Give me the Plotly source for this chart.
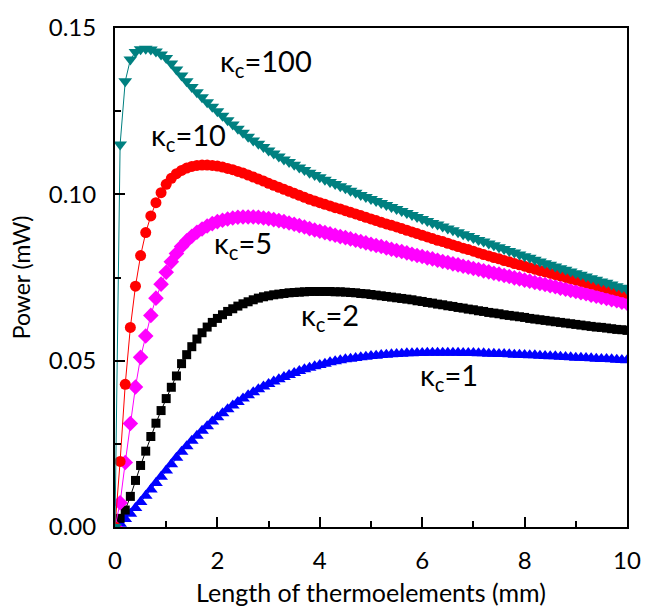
import plotly.graph_objects as go

# Length of thermoelements (mm): 0.0, 0.1, ..., 10.0
length_mm = [i / 10 for i in range(101)]

# Output power (mW) for each thermal contact conductance kappa_c
power_k100 = [
    0.0, 0.1150, 0.1340, 0.1405, 0.1428, 0.1436, 0.1438, 0.1435, 0.1429, 0.1420,
    0.1410, 0.1393, 0.1375, 0.1357, 0.1340, 0.1323, 0.1307, 0.1292, 0.1277, 0.1263,
    0.1250, 0.1236, 0.1223, 0.1210, 0.1197, 0.1185, 0.1173, 0.1162, 0.1152, 0.1142,
    0.1132, 0.1123, 0.1114, 0.1105, 0.1097, 0.1089, 0.1081, 0.1073, 0.1065, 0.1058,
    0.1051, 0.1044, 0.1037, 0.1031, 0.1024, 0.1018, 0.1011, 0.1005, 0.0998, 0.0992,
    0.0986, 0.0980, 0.0974, 0.0968, 0.0962, 0.0956, 0.0950, 0.0944, 0.0938, 0.0932,
    0.0926, 0.0920, 0.0914, 0.0909, 0.0903, 0.0897, 0.0892, 0.0886, 0.0880, 0.0875,
    0.0869, 0.0863, 0.0858, 0.0852, 0.0847, 0.0841, 0.0836, 0.0830, 0.0825, 0.0819,
    0.0814, 0.0809, 0.0803, 0.0798, 0.0793, 0.0788, 0.0783, 0.0778, 0.0773, 0.0768,
    0.0763, 0.0758, 0.0753, 0.0748, 0.0743, 0.0738, 0.0734, 0.0729, 0.0724, 0.0719,
    0.0715,
]
power_k10 = [
    0.0, 0.0197, 0.0429, 0.0600, 0.0724, 0.0816, 0.0885, 0.0935, 0.0975, 0.1005,
    0.1030, 0.1048, 0.1062, 0.1072, 0.1079, 0.1084, 0.1087, 0.1088, 0.1088, 0.1087,
    0.1085, 0.1082, 0.1078, 0.1074, 0.1069, 0.1064, 0.1058, 0.1052, 0.1046, 0.1040,
    0.1033, 0.1027, 0.1021, 0.1015, 0.1009, 0.1003, 0.0997, 0.0991, 0.0985, 0.0980,
    0.0975, 0.0970, 0.0965, 0.0960, 0.0956, 0.0951, 0.0946, 0.0941, 0.0936, 0.0931,
    0.0926, 0.0921, 0.0916, 0.0911, 0.0907, 0.0902, 0.0897, 0.0892, 0.0887, 0.0882,
    0.0877, 0.0872, 0.0867, 0.0862, 0.0858, 0.0853, 0.0848, 0.0843, 0.0838, 0.0834,
    0.0829, 0.0824, 0.0819, 0.0815, 0.0810, 0.0806, 0.0801, 0.0797, 0.0792, 0.0788,
    0.0784, 0.0779, 0.0775, 0.0771, 0.0767, 0.0763, 0.0759, 0.0755, 0.0751, 0.0747,
    0.0743, 0.0739, 0.0735, 0.0731, 0.0727, 0.0723, 0.0719, 0.0715, 0.0711, 0.0707,
    0.0703,
]
power_k5 = [
    0.0, 0.0073, 0.0194, 0.0311, 0.0421, 0.0510, 0.0574, 0.0636, 0.0688, 0.0730,
    0.0766, 0.0797, 0.0822, 0.0843, 0.0860, 0.0874, 0.0886, 0.0896, 0.0905, 0.0912,
    0.0918, 0.0922, 0.0926, 0.0929, 0.0931, 0.0932, 0.0932, 0.0932, 0.0931, 0.0929,
    0.0927, 0.0924, 0.0921, 0.0918, 0.0914, 0.0910, 0.0906, 0.0902, 0.0897, 0.0893,
    0.0889, 0.0885, 0.0881, 0.0877, 0.0873, 0.0870, 0.0866, 0.0862, 0.0858, 0.0854,
    0.0850, 0.0846, 0.0843, 0.0839, 0.0835, 0.0831, 0.0828, 0.0824, 0.0820, 0.0816,
    0.0813, 0.0809, 0.0806, 0.0802, 0.0798, 0.0795, 0.0791, 0.0788, 0.0784, 0.0781,
    0.0777, 0.0774, 0.0770, 0.0767, 0.0763, 0.0760, 0.0756, 0.0753, 0.0749, 0.0746,
    0.0742, 0.0739, 0.0735, 0.0732, 0.0729, 0.0725, 0.0722, 0.0718, 0.0715, 0.0711,
    0.0708, 0.0704, 0.0701, 0.0697, 0.0694, 0.0690, 0.0687, 0.0683, 0.0680, 0.0676,
    0.0673,
]
power_k2 = [
    0.0, 0.0026, 0.0051, 0.0092, 0.0140, 0.0185, 0.0228, 0.0272, 0.0312, 0.0350,
    0.0386, 0.0420, 0.0454, 0.0491, 0.0518, 0.0542, 0.0565, 0.0584, 0.0601, 0.0615,
    0.0627, 0.0638, 0.0648, 0.0656, 0.0664, 0.0671, 0.0677, 0.0683, 0.0688, 0.0692,
    0.0695, 0.0698, 0.0700, 0.0702, 0.0704, 0.0705, 0.0706, 0.0707, 0.0708, 0.0708,
    0.0708, 0.0708, 0.0708, 0.0707, 0.0707, 0.0706, 0.0705, 0.0704, 0.0702, 0.0701,
    0.0699, 0.0697, 0.0695, 0.0693, 0.0691, 0.0689, 0.0687, 0.0685, 0.0683, 0.0680,
    0.0678, 0.0675, 0.0673, 0.0670, 0.0668, 0.0665, 0.0663, 0.0660, 0.0658, 0.0655,
    0.0653, 0.0650, 0.0648, 0.0645, 0.0643, 0.0641, 0.0638, 0.0636, 0.0634, 0.0632,
    0.0630, 0.0627, 0.0625, 0.0623, 0.0621, 0.0619, 0.0617, 0.0615, 0.0613, 0.0611,
    0.0609, 0.0607, 0.0605, 0.0603, 0.0601, 0.0600, 0.0598, 0.0596, 0.0594, 0.0593,
    0.0591,
]
power_k1 = [
    0.0, 0.0010, 0.0024, 0.0040, 0.0057, 0.0075, 0.0094, 0.0113, 0.0132, 0.0151,
    0.0170, 0.0189, 0.0208, 0.0226, 0.0243, 0.0259, 0.0274, 0.0289, 0.0303, 0.0317,
    0.0330, 0.0342, 0.0354, 0.0365, 0.0376, 0.0386, 0.0396, 0.0405, 0.0414, 0.0422,
    0.0430, 0.0437, 0.0444, 0.0451, 0.0457, 0.0463, 0.0469, 0.0474, 0.0479, 0.0483,
    0.0487, 0.0491, 0.0495, 0.0498, 0.0501, 0.0504, 0.0506, 0.0508, 0.0510, 0.0512,
    0.0514, 0.0515, 0.0517, 0.0518, 0.0519, 0.0520, 0.0521, 0.0522, 0.0522, 0.0523,
    0.0523, 0.0524, 0.0524, 0.0524, 0.0524, 0.0524, 0.0524, 0.0524, 0.0523, 0.0523,
    0.0523, 0.0522, 0.0522, 0.0521, 0.0521, 0.0520, 0.0520, 0.0519, 0.0518, 0.0518,
    0.0517, 0.0516, 0.0516, 0.0515, 0.0514, 0.0513, 0.0513, 0.0512, 0.0511, 0.0510,
    0.0509, 0.0509, 0.0508, 0.0507, 0.0506, 0.0505, 0.0505, 0.0504, 0.0503, 0.0502,
    0.0501,
]

series = [
    ("κc=1", power_k1, "#0000FF", "triangle-up", 12),
    ("κc=2", power_k2, "#000000", "square", 9),
    ("κc=5", power_k5, "#FF00FF", "diamond", 12),
    ("κc=10", power_k10, "#FF0000", "circle", 11),
    ("κc=100", power_k100, "#008080", "triangle-down", 12),
]

# Curve labels: (kappa_c value, x position in mm, y position in mW)
curve_labels = [
    ("100", 2.02, 0.1395),
    ("10", 0.66, 0.1175),
    ("5", 1.90, 0.0849),
    ("2", 3.60, 0.0632),
    ("1", 5.92, 0.0451),
]

FONT = "Lato"

fig = go.Figure()
for name, ys, color, symbol, size in series:
    fig.add_trace(go.Scatter(
        x=length_mm, y=ys, name=name, mode="lines+markers",
        line=dict(color=color, width=1),
        marker=dict(symbol=symbol, size=size, color=color, line=dict(width=0)),
        cliponaxis=True,
    ))

for value, lx, ly in curve_labels:
    fig.add_annotation(
        x=lx, y=ly, xref="x", yref="y", xanchor="left", yanchor="middle",
        text="κ<sub>c</sub>=" + value, showarrow=False,
        font=dict(family=FONT, size=29, color="black"),
    )

axis_common = dict(
    showgrid=False, zeroline=False, showline=True, linecolor="black",
    linewidth=2, mirror=True, ticks="inside", tickcolor="black",
    tickwidth=2, ticklen=10,
    tickfont=dict(family=FONT, size=24, color="black"),
)

fig.update_xaxes(
    range=[0, 10], tickvals=[0, 2, 4, 6, 8, 10], ticktext=["0", "2", "4", "6", "8", "10"],
    minor=dict(tickvals=[1, 3, 5, 7, 9], ticks="inside", ticklen=6, tickwidth=2, tickcolor="black"),
    title=dict(text="Length of thermoelements (mm)", font=dict(family=FONT, size=25, color="black"), standoff=12),
    ticklabelstandoff=11,
    **axis_common,
)
fig.update_yaxes(
    range=[0, 0.15], tickvals=[0, 0.05, 0.10, 0.15], ticktext=["0.00", "0.05", "0.10", "0.15"],
    minor=dict(tickvals=[0.025, 0.075, 0.125], ticks="inside", ticklen=6, tickwidth=2, tickcolor="black"),
    title=dict(text="Power (mW)", font=dict(family=FONT, size=23, color="black"), standoff=12),
    ticklabelstandoff=12,
    **axis_common,
)

fig.update_layout(
    width=653, height=615,
    margin=dict(l=115, r=26, t=17, b=86),
    plot_bgcolor="white", paper_bgcolor="white",
    showlegend=False,
)

fig.write_html("out.html")
